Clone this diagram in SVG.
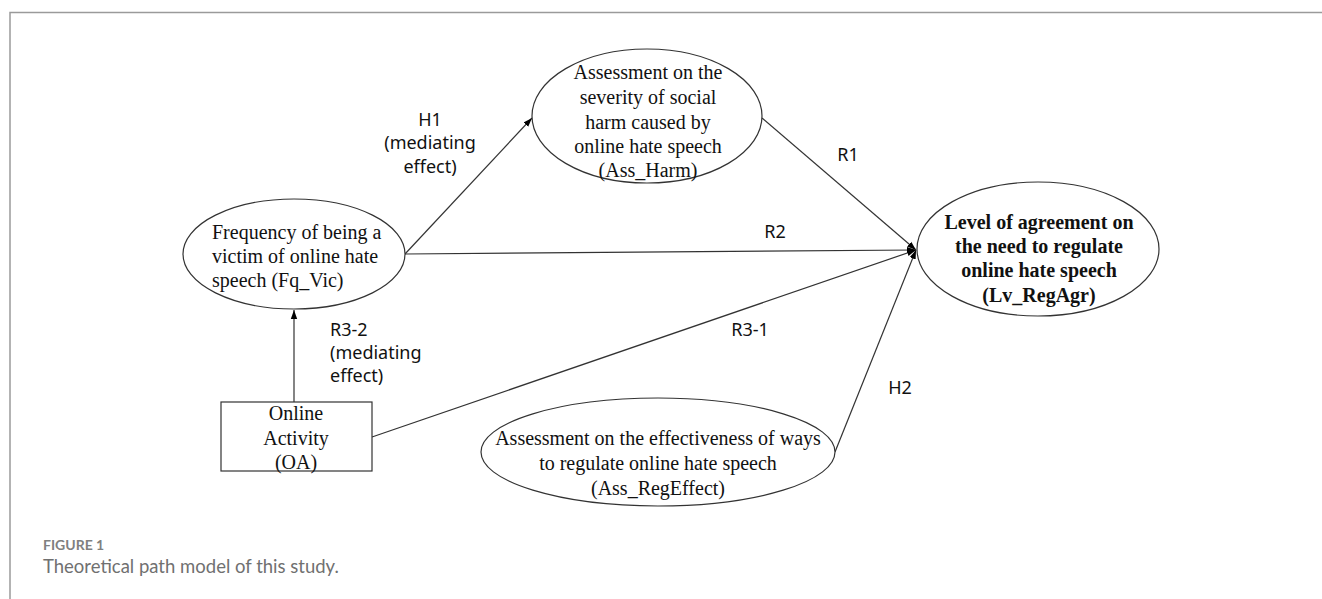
<svg xmlns="http://www.w3.org/2000/svg" width="1322" height="599" viewBox="0 0 1322 599">
<defs>
<marker id="arr" markerWidth="10" markerHeight="8" refX="9" refY="4" orient="auto" markerUnits="userSpaceOnUse">
<path d="M0,0.8 L9,4 L0,7.2 Z" fill="#000"/>
</marker>
<style>
.shape{fill:#fff;stroke:#333;stroke-width:1.2}
.serif{font-family:"Liberation Serif","Times New Roman",serif;font-size:20px;fill:#111}
.bold{font-weight:bold}
.lbl{font-family:"Noto Sans","Open Sans",sans-serif;font-size:18px;fill:#111}
.conn{stroke:#333;stroke-width:1.2;fill:none}
.mid{text-anchor:middle}
</style>
</defs>
<rect width="1322" height="599" fill="#fff"/>
<path d="M10,599 V12.5 H1322" fill="none" stroke="#9a9a9a" stroke-width="1.5"/>

<g id="connectors">
<line class="conn" x1="405" y1="254" x2="532" y2="118" marker-end="url(#arr)"/>
<line class="conn" x1="762" y1="118" x2="916" y2="250" marker-end="url(#arr)"/>
<line class="conn" x1="405" y1="254" x2="916" y2="250" marker-end="url(#arr)"/>
<line class="conn" x1="372" y1="437" x2="916" y2="250" marker-end="url(#arr)"/>
<line class="conn" x1="835" y1="452" x2="916" y2="250" marker-end="url(#arr)"/>
<line class="conn" x1="294" y1="402" x2="294" y2="310" marker-end="url(#arr)"/>
<g class="lbl">
<text class="mid" x="430" y="126">H1</text>
<text class="mid" x="430" y="149">(mediating</text>
<text class="mid" x="430" y="173">effect)</text>
<text class="mid" x="848" y="161">R1</text>
<text class="mid" x="775" y="238">R2</text>
<text class="mid" x="750" y="336">R3-1</text>
<text class="mid" x="900" y="394">H2</text>
<text x="330" y="336">R3-2</text>
<text x="330" y="359">(mediating</text>
<text x="330" y="382">effect)</text>
</g>
</g>

<g id="node-fqvic">
<ellipse class="shape" cx="294" cy="254" rx="111" ry="55"/>
<text class="serif" x="212" y="239">Frequency of being a</text>
<text class="serif" x="212" y="263">victim of online hate</text>
<text class="serif" x="212" y="287">speech (Fq_Vic)</text>
</g>

<g id="node-assharm">
<ellipse class="shape" cx="647" cy="116" rx="115" ry="67"/>
<text class="serif mid" x="648" y="79">Assessment on the</text>
<text class="serif mid" x="648" y="104">severity of social</text>
<text class="serif mid" x="648" y="129">harm caused by</text>
<text class="serif mid" x="648" y="153">online hate speech</text>
<text class="serif mid" x="648" y="177">(Ass_Harm)</text>
</g>

<g id="node-lvregagr">
<ellipse class="shape" cx="1038" cy="249" rx="121" ry="67"/>
<text class="serif bold mid" x="1039" y="229">Level of agreement on</text>
<text class="serif bold mid" x="1039" y="253">the need to regulate</text>
<text class="serif bold mid" x="1039" y="277">online hate speech</text>
<text class="serif bold mid" x="1039" y="302">(Lv_RegAgr)</text>
</g>

<g id="node-assregeffect">
<ellipse class="shape" cx="658" cy="452" rx="177" ry="54"/>
<text class="serif mid" x="658" y="445">Assessment on the effectiveness of ways</text>
<text class="serif mid" x="658" y="470">to regulate online hate speech</text>
<text class="serif mid" x="658" y="495">(Ass_RegEffect)</text>
</g>

<g id="node-oa">
<rect class="shape" x="221" y="402" width="151" height="69"/>
<text class="serif mid" x="296" y="420">Online</text>
<text class="serif mid" x="296" y="445">Activity</text>
<text class="serif mid" x="296" y="469">(OA)</text>
</g>

<g id="caption">
<text x="43" y="550" font-family="Lato,'Open Sans',sans-serif" font-size="14" font-weight="bold" fill="#808080">FIGURE 1</text>
<text x="43" y="573" font-family="Lato,'Open Sans',sans-serif" font-size="18.5" fill="#707070">Theoretical path model of this study.</text>
</g>
</svg>
